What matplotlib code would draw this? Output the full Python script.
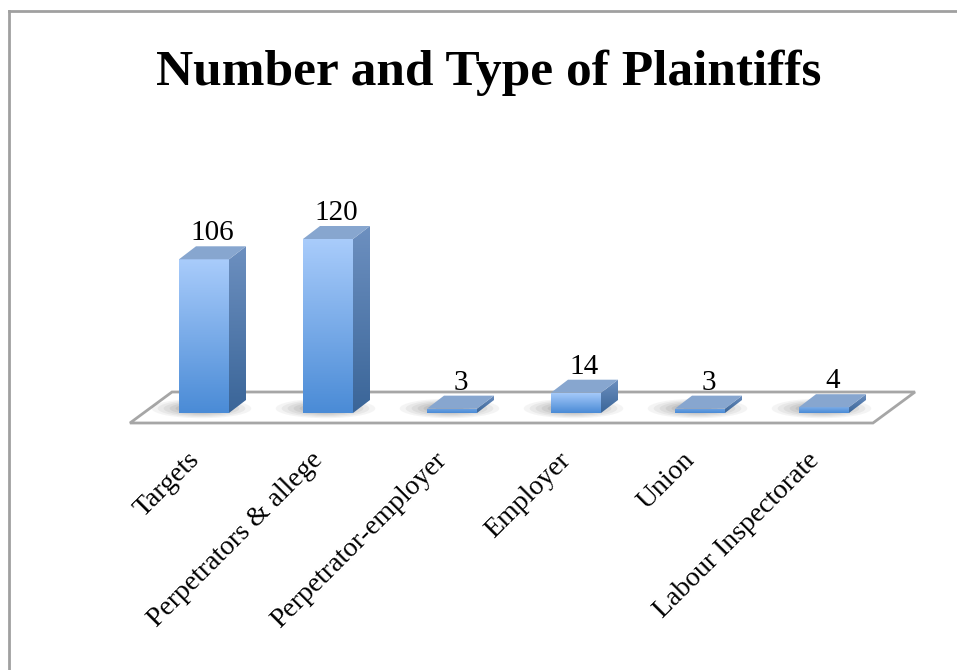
import numpy as np
import matplotlib.pyplot as plt
from matplotlib.patches import Polygon, Ellipse
from matplotlib.lines import Line2D
from matplotlib.colors import LinearSegmentedColormap

CATEGORIES = ["Targets", "Perpetrators & allege", "Perpetrator-employer",
              "Employer", "Union", "Labour Inspectorate"]
COUNTS = [106, 120, 3, 14, 3, 4]

plt.rcParams["font.family"] = ["Liberation Serif", "DejaVu Serif"]

W, H = 957, 670
fig = plt.figure(figsize=(W / 100, H / 100), dpi=100)
ax = fig.add_axes([0, 0, 1, 1])

# pixel mapping (category 0 at x=204px, 124px per category; value 0 at y=413px, 1.45px per unit)
X0, XS = 204, 124
Y0, YS = 413, 1.45
ax.set_xlim(-X0 / XS, (W - X0) / XS)
ax.set_ylim((Y0 - H) / YS, Y0 / YS)
ax.axis("off")

BW = 50 / XS          # bar width
DX = 17 / XS          # 3d depth in x
DY = 13 / YS          # 3d depth in y

front_cmap = LinearSegmentedColormap.from_list("front", ["#4a8bd6", "#a9ccfb"])
side_cmap = LinearSegmentedColormap.from_list("side", ["#3a6598", "#6d90c0"])
grad = np.linspace(0, 1, 256).reshape(-1, 1)

# floor
n = len(COUNTS)
f_front = -10 / YS
f_back = 21 / YS
floor = Polygon([(-0.597, f_front), (n - 0.605, f_front),
                 (n - 0.266, f_back), (-0.258, f_back)],
                closed=True, facecolor="white", edgecolor="#a6a6a6", lw=2, zorder=1)
ax.add_patch(floor)

for i, (cat, v) in enumerate(zip(CATEGORIES, COUNTS)):
    left, right = i - BW / 2, i + BW / 2
    # soft shadow
    for k, a in zip(range(7), [0.06, 0.07, 0.08, 0.09, 0.10, 0.12, 0.14]):
        s = 1 - k * 0.12
        ax.add_patch(Ellipse((i - 0.02, DY * 0.35), (BW + 0.40) * s, (DY * 1.5) * s,
                             facecolor="#505050", edgecolor="none", alpha=a, zorder=2))
    # front face with gradient
    front = Polygon([(left, 0), (right, 0), (right, v), (left, v)], closed=True,
                    facecolor="none", edgecolor="none", zorder=4)
    ax.add_patch(front)
    im = ax.imshow(grad, cmap=front_cmap, extent=[left, right, 0, max(v, 8)],
                   origin="lower", aspect="auto", zorder=4, interpolation="bilinear")
    im.set_clip_path(front)
    # side face
    side = Polygon([(right, 0), (right + DX, DY), (right + DX, v + DY), (right, v)],
                   closed=True, facecolor="none", edgecolor="none", zorder=4)
    ax.add_patch(side)
    im2 = ax.imshow(grad, cmap=side_cmap, extent=[right, right + DX, 0, v + DY],
                    origin="lower", aspect="auto", zorder=4, interpolation="bilinear")
    im2.set_clip_path(side)
    # top face
    ax.add_patch(Polygon([(left, v), (right, v), (right + DX, v + DY), (left + DX, v + DY)],
                         closed=True, facecolor="#87a6cf", edgecolor="none", zorder=5))
    # value label
    ax.annotate(str(v), (i + DX / 2, v + DY), xytext=(0, 0), textcoords="offset points",
                ha="center", va="bottom", fontsize=21, zorder=6)
    # category label
    ax.text(i - 0.07, -30, cat, rotation=45, rotation_mode="anchor",
            ha="right", va="center", fontsize=20)

fig.text(489 / W, 1 - 73 / H, "Number and Type of Plaintiffs", ha="center", va="center",
         fontsize=37, fontweight="bold")

# chart border (top and left edges visible)
fig.add_artist(Line2D([8.5 / W, 1], [1 - 11 / H, 1 - 11 / H], transform=fig.transFigure,
                      color="#a0a0a0", lw=2))
fig.add_artist(Line2D([8.5 / W, 8.5 / W], [0, 1 - 11 / H], transform=fig.transFigure,
                      color="#a0a0a0", lw=2))

fig.savefig("out.png", dpi=100, facecolor="white")
